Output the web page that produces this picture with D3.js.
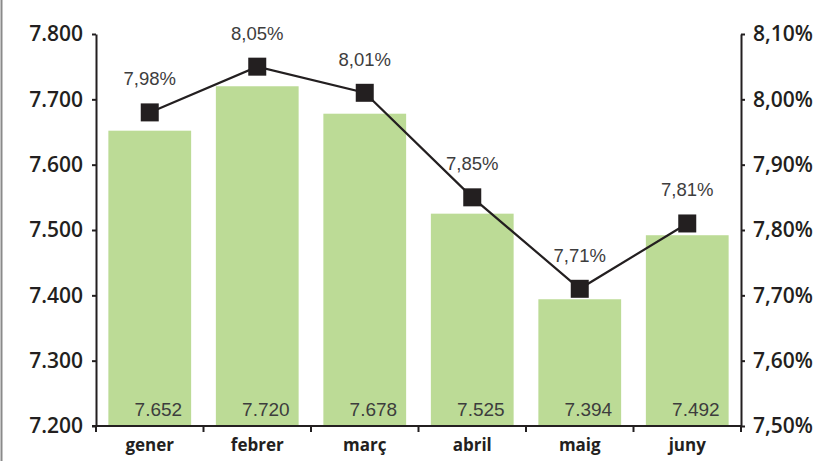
<!DOCTYPE html>
<html>
<head>
<meta charset="utf-8">
<script src="https://cdn.jsdelivr.net/npm/d3@7"></script>
<style>
  body { margin: 0; background: #fff; }
  svg { display: block; font-family: "Liberation Sans", Arial, sans-serif; }
  .axis path, .axis line { stroke: #231f20; stroke-width: 2; }
  .axis text { fill: #231f20; font-family: "Open Sans", sans-serif; font-size: 21px; font-weight: 600; }
  .xAxis text { font-size: 17px; font-weight: 700; }
</style>
</head>
<body>
<div id="chart"></div>
<script>
const months = ["gener", "febrer", "març", "abril", "maig", "juny"];
const amounts = [7652, 7720, 7678, 7525, 7394, 7492];
const rates = [7.98, 8.05, 8.01, 7.85, 7.71, 7.81];
const leftTicks = [7200, 7300, 7400, 7500, 7600, 7700, 7800];
const rightTicks = [7.5, 7.6, 7.7, 7.8, 7.9, 8.0, 8.1];

const width = 820, height = 461;
const margin = { top: 34, right: 79, bottom: 35, left: 96 };

const svg = d3.select("#chart").append("svg")
  .attr("width", width)
  .attr("height", height);

// thin grey frame line on the left edge
svg.append("line")
  .attr("x1", 1.5).attr("x2", 1.5)
  .attr("y1", 0).attr("y2", height)
  .attr("stroke", "#8a8a8a")
  .attr("stroke-width", 2);

const x = d3.scaleBand()
  .domain(months)
  .range([margin.left, width - margin.right])
  .paddingInner(0.23)
  .paddingOuter(0.115);

const yLeft = d3.scaleLinear()
  .domain([7200, 7800])
  .range([height - margin.bottom, margin.top]);

const yRight = d3.scaleLinear()
  .domain([7.5, 8.1])
  .range([height - margin.bottom, margin.top]);

const fmtInt = d3.formatLocale({ decimal: ",", thousands: ".", grouping: [3], currency: ["", ""] }).format(",d");
const fmtPct = d => d.toFixed(2).replace(".", ",") + "%";

// bars
svg.selectAll(".bar")
  .data(months)
  .enter()
  .append("rect")
  .attr("class", "bar")
  .attr("x", d => x(d))
  .attr("width", x.bandwidth())
  .attr("y", (d, i) => yLeft(amounts[i]))
  .attr("height", (d, i) => yLeft(7200) - yLeft(amounts[i]))
  .style("fill", "#bcdb96");

// values inside bars
svg.selectAll(".valueLabel")
  .data(months)
  .enter()
  .append("text")
  .attr("class", "valueLabel")
  .attr("x", d => x(d) + x.bandwidth() - 9)
  .attr("y", yLeft(7200) - 10)
  .style("text-anchor", "end")
  .style("font-size", "19px")
  .style("fill", "#3d3d3d")
  .text((d, i) => fmtInt(amounts[i]));

// left axis
svg.append("g")
  .attr("class", "axis yLeft")
  .attr("transform", `translate(${margin.left}, 0)`)
  .call(d3.axisLeft(yLeft).tickValues(leftTicks).tickSize(4).tickSizeOuter(0).tickPadding(9).tickFormat(fmtInt));

// right axis
svg.append("g")
  .attr("class", "axis yRight")
  .attr("transform", `translate(${width - margin.right}, 0)`)
  .call(d3.axisRight(yRight).tickValues(rightTicks).tickSize(4).tickSizeOuter(0).tickPadding(8).tickFormat(fmtPct));

// bottom axis, ticks at category boundaries
const step = x.step();
const bounds = months.map((d, i) => margin.left + i * step);
bounds.push(width - margin.right);
const xAxisG = svg.append("g")
  .attr("class", "axis xAxis")
  .attr("transform", `translate(0, ${height - margin.bottom})`)
  .call(d3.axisBottom(x).tickSize(0).tickPadding(13));
xAxisG.select(".domain").attr("d", `M${margin.left - 4},0H${width - margin.right}`);
xAxisG.selectAll(".bound")
  .data(bounds)
  .enter()
  .append("line")
  .attr("class", "bound")
  .attr("x1", d => d).attr("x2", d => d)
  .attr("y1", 0).attr("y2", 6);

// rate line
const line = d3.line()
  .x((d, i) => x(months[i]) + x.bandwidth() / 2)
  .y(d => yRight(d));

svg.append("path")
  .datum(rates)
  .attr("d", line)
  .attr("fill", "none")
  .attr("stroke", "#231f20")
  .attr("stroke-width", 2.2);

const mk = 18;
svg.selectAll(".marker")
  .data(rates)
  .enter()
  .append("rect")
  .attr("class", "marker")
  .attr("x", (d, i) => x(months[i]) + x.bandwidth() / 2 - mk / 2)
  .attr("y", d => yRight(d) - mk / 2)
  .attr("width", mk)
  .attr("height", mk)
  .style("fill", "#231f20");

svg.selectAll(".rateLabel")
  .data(rates)
  .enter()
  .append("text")
  .attr("class", "rateLabel")
  .attr("x", (d, i) => x(months[i]) + x.bandwidth() / 2)
  .attr("y", d => yRight(d) - 27)
  .style("text-anchor", "middle")
  .style("font-size", "18.5px")
  .style("fill", "#3d3d3d")
  .text(d => fmtPct(d));
</script>
</body>
</html>
